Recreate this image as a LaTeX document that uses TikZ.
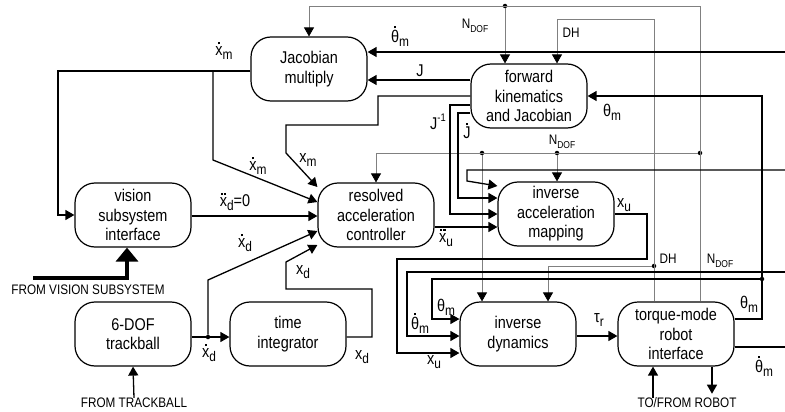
\documentclass[tikz,border=0pt]{standalone}
\usepackage{fontspec}
\setmainfont{Liberation Sans}[FakeStretch=0.85]
\usetikzlibrary{arrows.meta}

\newcommand\dt[2][0.64em]{\ooalign{#2\cr\hidewidth\raisebox{#1}{\rule{2.3pt}{2.3pt}}\hidewidth\cr}}
\newcommand\ddt[2][0.68em]{\ooalign{#2\cr\hidewidth\raisebox{#1}{\rule{2.1pt}{2.1pt}\kern1.6pt\rule{2.1pt}{2.1pt}}\hidewidth\cr}}
\newcommand\sub[1]{\raisebox{-0.25em}{\fontsize{14}{14}\selectfont #1}}
\newcommand\ndof{N\raisebox{-0.3em}{\fontsize{10}{10}\selectfont DOF}}

\begin{document}
\begin{tikzpicture}[x=1pt,y=-1pt,
  blk/.style={draw, line width=1.2pt, rounded corners=20pt, minimum width=116pt, minimum height=64pt, inner sep=0pt, align=center, font=\fontsize{17}{19.5}\selectfont},
  sig/.style={line width=1.3pt},
  prm/.style={draw=black!50, line width=0.8pt},
  lab/.style={inner sep=0pt, font=\fontsize{17}{19}\selectfont},
  tag/.style={inner sep=0pt, font=\fontsize{13.8}{15}\selectfont},
  dot/.style={circle, fill, inner sep=0pt, minimum size=4.5pt},
  >={Triangle[length=9pt,width=10pt]},
  gtip/.style={-{Triangle[length=9pt,width=10pt,color=black,fill=black]}},
  big/.style={line width=4.5pt, -{Triangle[length=14pt,width=22pt]}}]
\useasboundingbox (0,0) rectangle (785,412);

\node[blk] (jac) at (309,69) {Jacobian\\multiply};
\node[blk] (fk) at (529,96) {forward\\kinematics\\and Jacobian};
\node[blk] (vis) at (133,215) {vision\\subsystem\\interface};
\node[blk] (rac) at (376,215) {resolved\\acceleration\\controller};
\node[blk] (iam) at (556,214) {inverse\\acceleration\\mapping};
\node[blk] (tb) at (133,334) {6-DOF\\trackball};
\node[blk] (ti) at (288,334) {time\\integrator};
\node[blk] (idyn) at (518,334) {inverse\\dynamics};
\node[blk] (rob) at (676,334) {torque-mode\\robot\\interface};

\node[tag] (fvs) at (88,290) {FROM VISION SUBSYSTEM};
\node[tag] (ftb) at (134,403) {FROM TRACKBALL};
\node[tag] (tfr) at (687,403) {TO/FROM ROBOT};

\node[dot] (n1) at (505,6) {};
\node[dot] (n2) at (700,153) {};
\node[dot] (n3) at (482,153) {};
\node[dot] (n4) at (557,153) {};
\node[dot] (d1) at (654,266) {};
\node[dot] (t1) at (762,279) {};
\node[dot] (k1) at (208,337) {};

\coordinate (e1) at (785,52);
\coordinate (e2) at (785,170);
\coordinate (e3) at (785,272);
\coordinate (e4) at (785,347);
\coordinate (xm) at (213,71);
\coordinate (vsrc) at (33,278);

\draw[prm,gtip] (rob.north -| 700,0) |- (jac.north |- 0,6) -- (jac.north);
\draw[prm,gtip] (n1) -- (n1 |- fk.north);
\draw[prm,gtip] (n2) -| (rac.north);
\draw[prm,gtip] (n3) -- (n3 |- idyn.north);
\draw[prm,gtip] (n4) -- (n4 |- iam.north);
\draw[prm,gtip] (rob.north -| 654,0) -- (654,19) -| (fk.north -| 557,0);
\draw[prm,gtip] (d1) -| (idyn.north -| 548,0);

\draw[sig,->] (e1) -- (jac.east |- e1);
\draw[sig,->] (fk.west |- 0,80) -- (jac.east |- 0,80);
\draw[sig,->] (rob.east |- 0,319) -- (762,319) |- (fk.east);
\draw[sig,->] (t1) -- (432,279) |- (idyn.west |- 0,319);
\draw[sig,->] (e2) -- (467,170) -- (467,181) -- (iam.west |- 0,186);
\draw[sig,->] (fk.west |- 0,113) -- (458,113) |- (iam.west |- 0,198);
\draw[sig,->] (fk.west |- 0,105) -- (450,105) |- (iam.west);
\draw[sig,->] (fk.west) -- (378,96) -- (378,125) -- (286,125) -- (286,153) -- (rac.west |- 0,187);
\draw[sig,->] (rac.east |- 0,227) -- (iam.west |- 0,227);
\draw[sig,->] (iam.east) -- (647,214) -- (647,259) -- (397,259) |- (idyn.west |- 0,353);
\draw[sig,->] (e3) -- (407,272) |- (idyn.west |- 0,336);
\draw[sig,->] (idyn.east |- 0,336) -- (rob.west |- 0,336);
\draw[sig] (rob.east |- 0,347) -- (e4);
\draw[sig] (jac.west |- 0,71) -- (xm);
\draw[sig,->] (xm) -- (58,71) |- (vis.west);
\draw[sig,->] (xm) -- (213,160) -- (rac.west |- 0,202);
\draw[sig,->] (vis.east |- 0,216) -- (rac.west |- 0,216);
\draw[big] (vsrc) -| ([xshift=-6pt]vis.south);
\draw[sig,->] (tb.east |- k1) -- (ti.west |- k1);
\draw[sig,->] (k1) -- (208,280) -- (rac.west |- 0,231);
\draw[sig,->] (ti.east |- k1) -- (372,337) -- (372,289) -- (286,289) -- (286,262) -- (rac.west |- 0,245);
\draw[sig,->] (ftb.north) -- (tb.south);
\draw[sig,->] (tfr.north -| 653,0) -- (rob.south -| 653,0);
\draw[sig,->,shorten >=4pt] (rob.south -| 712,0) -- (tfr.north -| 712,0);

\node[lab] (lxm1) at (224,53) {\dt{x}\sub{m}};
\node[lab] (lth1) at (400,38) {\dt[0.8em]{θ}\sub{m}};
\node[tag] (lnd1) at (475,26) {\ndof};
\node[tag] (ldh1) at (571,33) {DH};
\node[lab] (lj) at (420,71) {J};
\node[lab] (lji) at (438,122) {J\raisebox{0.45em}{\fontsize{11}{11}\selectfont -1}};
\node[lab] (ljd) at (467,133) {\dt[0.8em]{J}};
\node[lab] (lth2) at (612,112) {θ\sub{m}};
\node[tag] (lnd2) at (562,142) {\ndof};
\node[lab] (lxm2) at (308,160) {x\sub{m}};
\node[lab] (lxm3) at (258,168) {\dt{x}\sub{m}};
\node[lab] (lxd0) at (235,203) {\ddt{x}\sub{d}=0};
\node[lab] (lxd1) at (245,245) {\dt{x}\sub{d}};
\node[lab] (lxd2) at (303,272) {x\sub{d}};
\node[lab] (lxu1) at (446,240) {\ddt{x}\sub{u}};
\node[lab] (lxu2) at (624,205) {x\sub{u}};
\node[tag] (ldh2) at (668,259) {DH};
\node[tag] (lnd3) at (720,261) {\ndof};
\node[lab] (lth3) at (446,307) {θ\sub{m}};
\node[lab] (lth4) at (420,325) {\dt[0.8em]{θ}\sub{m}};
\node[lab] (lxu3) at (434,362) {x\sub{u}};
\node[lab] (ltau) at (599,320) {τ\sub{r}};
\node[lab] (lth5) at (749,304) {θ\sub{m}};
\node[lab] (lth6) at (764,368) {\dt[0.8em]{θ}\sub{m}};
\node[lab] (lxd3) at (209,355) {\dt{x}\sub{d}};
\node[lab] (lxd4) at (362,357) {x\sub{d}};
\end{tikzpicture}
\end{document}
